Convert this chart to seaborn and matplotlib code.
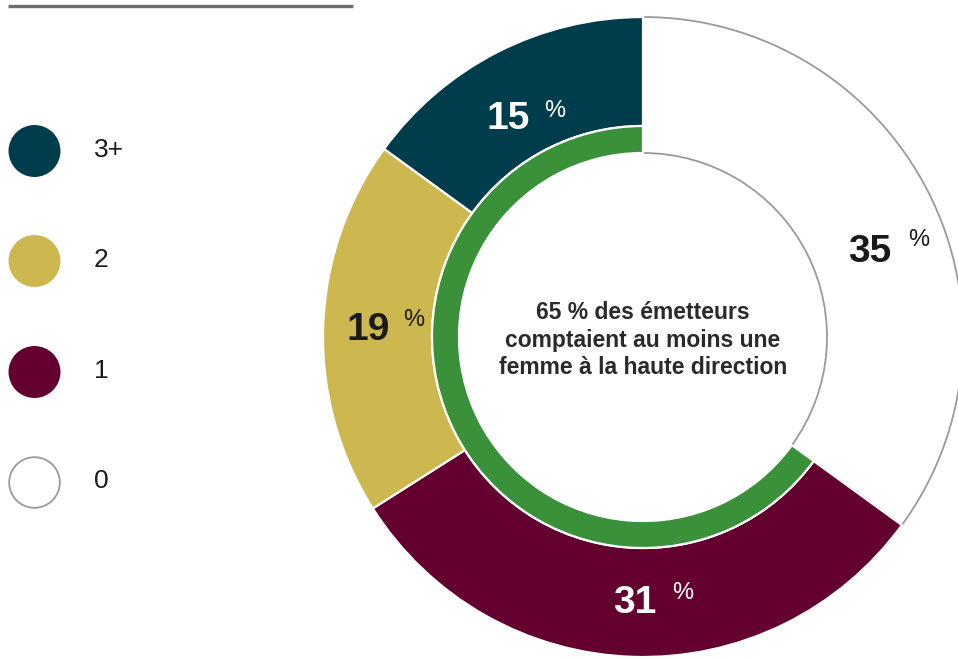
import matplotlib
matplotlib.use("Agg")
import matplotlib.pyplot as plt
import seaborn as sns
import pandas as pd

# ---- data ----
categories = ["0", "1", "2", "3+"]          # clockwise from 12 o'clock
shares = [35, 31, 19, 15]
colors = ["#ffffff", "#640030", "#cdb84f", "#003d4c"]
label_colors = ["#1a1a1a", "#ffffff", "#1a1a1a", "#ffffff"]
ring_values = [35, 65]                       # inner ring: none vs at least one
ring_colors = ["#ffffff", "#3a9139"]
legend_order = ["3+", "2", "1", "0"]
center_text = "65 % des émetteurs\ncomptaient au moins une\nfemme à la haute direction"

# ---- layout (pixel space, y up) ----
W, H = 958, 660
def py(y):
    return H - y

cx, cy = 643, py(337)
R_OUT, R_MID, R_IN = 320, 211, 184

sns.set_theme(style="white")
plt.rcParams["font.family"] = ["Liberation Sans", "DejaVu Sans"]

fig = plt.figure(figsize=(W / 100, H / 100), dpi=100)
ax = fig.add_axes([0, 0, 1, 1])

# outer ring
wedges, _ = ax.pie(shares, colors=colors, radius=R_OUT, center=(cx, cy),
                   startangle=90, counterclock=False,
                   wedgeprops=dict(width=R_OUT - R_MID, edgecolor="white", linewidth=1.6))
# the "0" wedge reaches to the inner circle and carries a grey outline
w0 = wedges[0]
w0.set_width(R_OUT - R_IN)
w0.set_edgecolor("#9a9a9a")
w0.set_linewidth(1.3)
w0.set_zorder(0.5)
for w in wedges[1:]:
    w.set_zorder(2)

# inner ring (green = at least one woman)
rw, _ = ax.pie(ring_values, colors=ring_colors, radius=R_MID, center=(cx, cy),
               startangle=90, counterclock=False,
               wedgeprops=dict(width=R_MID - R_IN, edgecolor="white", linewidth=1.6))
rw[0].set_visible(False)
rw[1].set_zorder(3)

# percentage labels (number left, baseline) and % sign (left, top)
label_pos = {"0": ((848, 262), (908, 229)),
             "1": ((613, 613), (672, 582)),
             "2": ((347, 340), (403, 309)),
             "3+": ((487, 129), (544, 100))}
for cat, val, lc in zip(categories, shares, label_colors):
    (nx, ny), (px_, pyy) = label_pos[cat]
    ax.text(nx, py(ny), f"{val}", fontsize=28, fontweight="bold", color=lc,
            ha="left", va="baseline", zorder=5)
    ax.text(px_, py(pyy), "%", fontsize=17, color=lc, ha="left", va="top", zorder=5)

# centre text
ax.text(cx, py(340), center_text, fontsize=16.5, fontweight="bold", color="#2a2a2a",
        ha="center", va="center", linespacing=1.24, zorder=5)

# legend
leg_y = [151, 261, 372, 482]
leg_df = pd.DataFrame({"x": [34.5] * 4, "y": [py(v) for v in leg_y], "cat": legend_order})
pal = dict(zip(categories, colors))
sns.scatterplot(data=leg_df, x="x", y="y", hue="cat", palette=pal, s=1400,
                edgecolor="none", legend=False, ax=ax, zorder=4)
ax.scatter([34.5], [py(482)], s=1330, facecolor="white", edgecolor="#9a9a9a",
           linewidth=1.3, zorder=4.5)
for cat, yy in zip(legend_order, leg_y):
    ax.text(94, py(yy - 1), cat, fontsize=19, color="#1a1a1a", ha="left", va="center")

# top rule
ax.plot([8, 353], [py(5.5), py(5.5)], color="#6e6e6e", linewidth=2.4, solid_capstyle="butt")

ax.set_xlim(0, W)
ax.set_ylim(0, H)
ax.set_xlabel("")
ax.set_ylabel("")
ax.axis("off")

fig.savefig("out.png", dpi=100)
